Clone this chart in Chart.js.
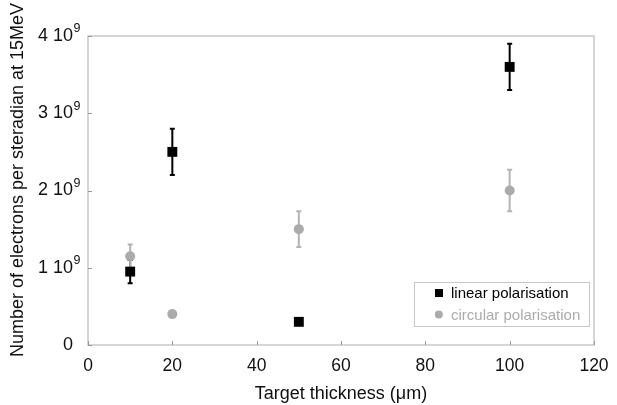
<!DOCTYPE html>
<html><head><meta charset="utf-8">
<script src="https://cdn.jsdelivr.net/npm/chart.js@4.4.0/dist/chart.umd.min.js"></script>
<style>html,body{margin:0;padding:0;background:#fff}#w{width:617px;height:405px}</style>
</head><body><div id="w"><canvas id="c"></canvas></div>
<script>
const thickness = [10, 20, 50, 100];
const linearValues = [0.95e9, 2.5e9, 0.3e9, 3.6e9];
const linearErrors = [0.15e9, 0.3e9, 0, 0.3e9];
const circularValues = [1.15e9, 0.4e9, 1.5e9, 2.0e9];
const circularErrors = [0.15e9, 0, 0.23e9, 0.27e9];
const xTicks = [0, 20, 40, 60, 80, 100, 120];
const yTicks = [0, 1e9, 2e9, 3e9, 4e9];
const yTickMantissa = ['0', '1 10', '2 10', '3 10', '4 10'];
const yTickExponent = ['', '9', '9', '9', '9'];
const yTitle = 'Number of electrons per steradian at 15MeV';
const xTitle = 'Target thickness (\u03bcm)';

const FONT = 'Liberation Sans, Arial, Helvetica, sans-serif';
const errs = [linearErrors, circularErrors];
const errColors = ['#000000', '#b4b4b4'];

const frame = {
  id: 'frame',
  beforeDatasetsDraw(chart) {
    const {ctx, chartArea: a, scales: {x, y}} = chart;
    ctx.save();
    ctx.strokeStyle = '#c8c8c8';
    ctx.lineWidth = 1.5;
    ctx.strokeRect(a.left, a.top, a.right - a.left, a.bottom - a.top);
    ctx.strokeStyle = '#999';
    ctx.lineWidth = 1;
    xTicks.forEach(v => { const px = Math.round(x.getPixelForValue(v)) + 0.5; ctx.beginPath(); ctx.moveTo(px, a.bottom); ctx.lineTo(px, a.bottom - 4); ctx.stroke(); });
    yTicks.forEach(v => { const py = Math.round(y.getPixelForValue(v)) + 0.5; ctx.beginPath(); ctx.moveTo(a.left, py); ctx.lineTo(a.left + 4, py); ctx.stroke(); });
    chart.data.datasets.forEach((ds, i) => {
      ctx.strokeStyle = errColors[i];
      ctx.lineWidth = 2;
      ds.data.forEach((p, j) => {
        const e = errs[i][j];
        if (!e) return;
        const px = x.getPixelForValue(p.x);
        const y1 = y.getPixelForValue(p.y + e), y2 = y.getPixelForValue(p.y - e);
        ctx.beginPath();
        ctx.moveTo(px, y1); ctx.lineTo(px, y2);
        ctx.moveTo(px - 2.5, y1); ctx.lineTo(px + 2.5, y1);
        ctx.moveTo(px - 2.5, y2); ctx.lineTo(px + 2.5, y2);
        ctx.stroke();
      });
    });
    ctx.restore();
  },
  afterDraw(chart) {
    const {ctx, scales: {y}} = chart;
    ctx.save();
    ctx.fillStyle = '#111';
    ctx.textAlign = 'left';
    ctx.textBaseline = 'middle';
    yTicks.forEach((v, i) => {
      if (!yTickExponent[i]) return;
      const right = y.right - 15;
      ctx.font = '12.5px ' + FONT;
      ctx.fillText(yTickExponent[i], right + 0.5, y.getPixelForValue(v) - 7);
    });
    ctx.font = '18px ' + FONT;
    ctx.textAlign = 'center';
    ctx.translate(18, 180);
    ctx.rotate(-Math.PI / 2);
    ctx.fillText(yTitle, 0, 0);
    ctx.restore();

    ctx.save();
    const bx = 414, by = 282, bw = 175, bh = 44;
    ctx.fillStyle = '#fff';
    ctx.fillRect(bx, by, bw, bh);
    ctx.strokeStyle = '#c8c8c8';
    ctx.lineWidth = 1;
    ctx.strokeRect(bx + 0.5, by + 0.5, bw, bh);
    ctx.font = '15px ' + FONT;
    ctx.textBaseline = 'middle';
    const ds = chart.data.datasets;
    ctx.fillStyle = '#000';
    ctx.fillRect(435, 289, 8, 8);
    ctx.fillText(ds[0].label, 451, 294);
    ctx.fillStyle = '#ababab';
    ctx.beginPath(); ctx.arc(438.8, 314.5, 4, 0, Math.PI * 2); ctx.fill();
    ctx.fillText(ds[1].label, 451, 315.5);
    ctx.restore();
  }
};

new Chart(document.getElementById('c'), {
  type: 'scatter',
  data: {
    datasets: [
      { label: 'linear polarisation', data: thickness.map((t, i) => ({x: t, y: linearValues[i]})),
        pointStyle: 'rect', pointRadius: 7, backgroundColor: '#000', borderColor: '#000', borderWidth: 0, order: 1 },
      { label: 'circular polarisation', data: thickness.map((t, i) => ({x: t, y: circularValues[i]})),
        pointStyle: 'circle', pointRadius: 5, backgroundColor: '#ababab', borderColor: '#ababab', borderWidth: 0, order: 2 }
    ]
  },
  options: {
    responsive: true, maintainAspectRatio: false, animation: false,
    layout: { padding: { left: 0, right: 23, top: 36, bottom: 0 } },
    plugins: { legend: { display: false }, tooltip: { enabled: false } },
    scales: {
      x: {
        type: 'linear', min: 0, max: 120,
        afterBuildTicks: s => { s.ticks = xTicks.map(v => ({value: v})); },
        afterFit: s => { s.height = 60; s.paddingLeft = 0; s.paddingRight = 0; },
        grid: { display: false, drawTicks: false },
        border: { display: false },
        ticks: { padding: 11, color: '#111', font: { family: FONT, size: 17.5 }, maxRotation: 0 },
        title: { display: true, text: xTitle, color: '#111', font: { family: FONT, size: 18 }, padding: { top: 0, bottom: 0 } }
      },
      y: {
        type: 'linear', min: 0, max: 4e9,
        afterBuildTicks: s => { s.ticks = yTicks.map(v => ({value: v})); },
        afterFit: s => { s.width = 88; s.paddingTop = 0; s.paddingBottom = 0; },
        grid: { display: false, drawTicks: false },
        border: { display: false },
        ticks: { padding: 15, color: '#111', font: { family: FONT, size: 18 },
          callback: (v) => yTickMantissa[yTicks.indexOf(v)] },
        title: { display: false }
      }
    }
  },
  plugins: [frame]
});
</script></body></html>
